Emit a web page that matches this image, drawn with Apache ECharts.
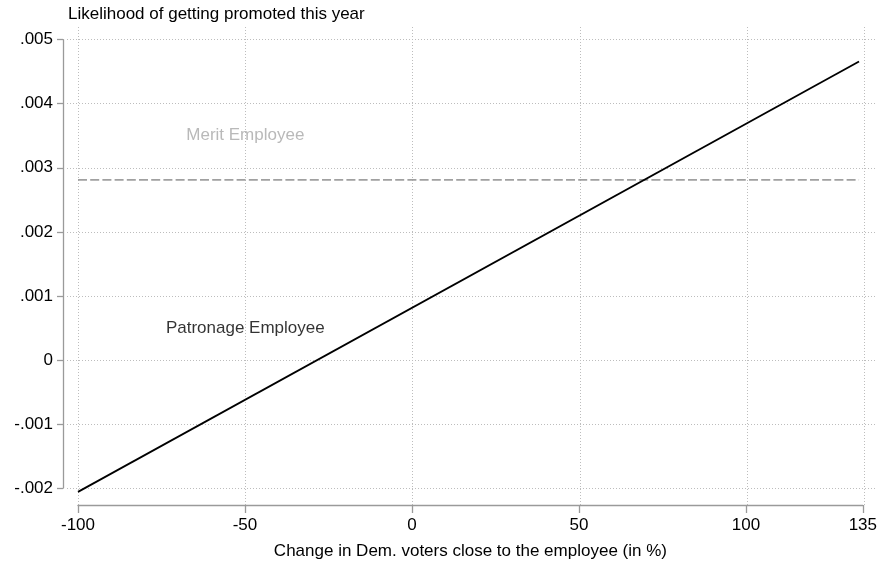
<!DOCTYPE html>
<html>
<head>
<meta charset="utf-8">
<script src="https://cdn.jsdelivr.net/npm/echarts@6/dist/echarts.min.js"></script>
<style>
html,body{margin:0;padding:0;background:#fff;}
#chart{width:880px;height:565px;}
</style>
</head>
<body>
<div id="chart"></div>
<script>
// ---- data ----
const titleText = 'Likelihood of getting promoted this year';
const xAxisTitle = 'Change in Dem. voters close to the employee (in %)';
const xTicks = [-100, -50, 0, 50, 100, 135];
const yTicks = [-0.002, -0.001, 0, 0.001, 0.002, 0.003, 0.004, 0.005];
const patronageX = [-100, 133.4];
const patronageY = [-0.00206, 0.00466];
const meritX = [-100, 133.4];
const meritY = [0.00281, 0.00281];
const labelNames = ['Merit Employee', 'Patronage Employee'];
const labelX = [-50, -50];
const labelY = [0.0035, 0.0005];
const labelColors = ['#a8a8a8', '#000000'];

// ---- layout helpers ----
const FONT = 'Liberation Sans, Arial, Helvetica, sans-serif';
const FS = 17;
// inner (tick-extent) grid in pixels
const gx0 = 78, gx1 = 864.4, gy0 = 39.7, gy1 = 488;
// outer plot region in pixels
const ox0 = 67, ox1 = 877, oy0 = 27, oy1 = 505;
const xMin = xTicks[0], xMax = xTicks[xTicks.length - 1];
const yMin = yTicks[0], yMax = yTicks[yTicks.length - 1];
const xs = (xMax - xMin) / (gx1 - gx0);
const ys = (yMax - yMin) / (gy1 - gy0);
const oxMin = xMin - (gx0 - ox0) * xs, oxMax = xMax + (ox1 - gx1) * xs;
const oyMin = yMin - (oy1 - gy1) * ys, oyMax = yMax + (gy0 - oy0) * ys;

function fmtY(v) {
  if (Math.abs(v) < 1e-12) return '0';
  const s = Math.abs(v).toFixed(3).replace(/^0/, '');
  return (v < 0 ? '-' : '') + s;
}

const gridMarks = xTicks.map(v => [{ coord: [v, oyMin] }, { coord: [v, oyMax] }])
  .concat(yTicks.map(v => [{ coord: [oxMin, v] }, { coord: [oxMax, v] }]));

const chart = echarts.init(document.getElementById('chart'), null, { renderer: 'canvas' });
chart.setOption({
  animation: false,
  backgroundColor: '#fff',
  textStyle: { fontFamily: FONT },
  title: {
    text: titleText, left: 68, top: 6, padding: 0,
    textStyle: { fontFamily: FONT, fontSize: FS, fontWeight: 'normal', color: '#000' }
  },
  grid: [
    { left: ox0, right: 880 - ox1, top: oy0, bottom: 565 - oy1 },
    { left: gx0, right: 880 - gx1, top: gy0, bottom: 565 - gy1 }
  ],
  xAxis: [
    { gridIndex: 0, type: 'value', min: oxMin, max: oxMax, show: false, splitLine: { show: false } },
    {
      gridIndex: 1, type: 'value', min: xMin, max: xMax, interval: 50, offset: oy1 - gy1,
      axisLine: { show: true, onZero: false, lineStyle: { color: '#9a9a9a', width: 1.3 } },
      axisTick: { show: true, length: 8, lineStyle: { color: '#9a9a9a', width: 1.3 } },
      axisLabel: { color: '#000', fontSize: FS, fontFamily: FONT, margin: 12, showMinLabel: true, showMaxLabel: true },
      splitLine: { show: false },
      name: xAxisTitle, nameLocation: 'middle', nameGap: 38,
      nameTextStyle: { color: '#000', fontSize: FS, fontFamily: FONT }
    }
  ],
  yAxis: [
    { gridIndex: 0, type: 'value', min: oyMin, max: oyMax, show: false, splitLine: { show: false } },
    {
      gridIndex: 1, type: 'value', min: yMin, max: yMax, interval: 0.001, offset: gx0 - 63,
      axisLine: { show: true, onZero: false, lineStyle: { color: '#9a9a9a', width: 1.3 } },
      axisTick: { show: true, length: 6, lineStyle: { color: '#9a9a9a', width: 1.3 } },
      axisLabel: { color: '#000', fontSize: FS, fontFamily: FONT, margin: 10, formatter: fmtY },
      splitLine: { show: false }
    }
  ],
  series: [
    {
      type: 'line', xAxisIndex: 0, yAxisIndex: 0, data: [], silent: true, z: 0, zlevel: 0,
      markLine: {
        silent: true, symbol: ['none', 'none'], label: { show: false }, z: 0,
        lineStyle: { color: '#bdbdbd', width: 1, type: [1, 2] },
        data: gridMarks
      }
    },
    {
      name: 'Merit', type: 'line', xAxisIndex: 0, yAxisIndex: 0, showSymbol: false, silent: true, z: 5,
      lineStyle: { color: '#a0a0a0', width: 1.8, type: [9, 3.2] },
      data: meritX.map((x, i) => [x, meritY[i]])
    },
    {
      name: 'Patronage', type: 'line', xAxisIndex: 0, yAxisIndex: 0, showSymbol: false, silent: true, z: 6,
      lineStyle: { color: '#000', width: 1.8 },
      data: patronageX.map((x, i) => [x, patronageY[i]])
    },
    {
      type: 'scatter', xAxisIndex: 0, yAxisIndex: 0, symbolSize: 0, silent: true, z: 7,
      data: labelNames.map((n, i) => ({
        value: [labelX[i], labelY[i]], name: n,
        label: { show: true, position: 'inside', formatter: n, color: labelColors[i], fontSize: FS, fontFamily: FONT, textBorderWidth: 0 }
      }))
    }
  ]
});
</script>
</body>
</html>
